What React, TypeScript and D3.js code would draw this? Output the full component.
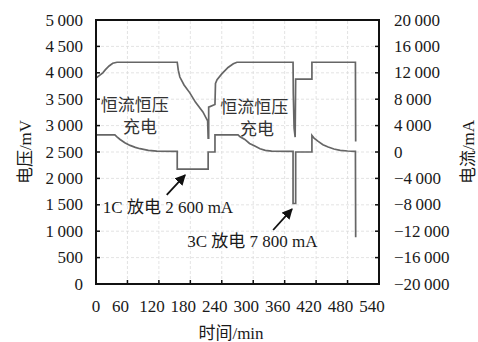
import React from 'react';
import * as d3 from 'd3';

// time ticks (min) and axis ticks
const timeTicks = [0, 60, 120, 180, 240, 300, 360, 420, 480, 540];
const voltTicks = [0, 500, 1000, 1500, 2000, 2500, 3000, 3500, 4000, 4500, 5000];
const currTicks = [-20000, -16000, -12000, -8000, -4000, 0, 4000, 8000, 12000, 16000, 20000];

// voltage curve (mV)
const voltTime = [0, 8, 13, 18, 25, 32, 40, 155, 157, 160, 168, 179, 190, 204, 213, 214, 215, 215, 227, 228, 231, 240, 252, 262, 269, 376, 376.5, 378, 380, 381, 412, 412, 495, 495.5];
const voltValue = [3900, 3960, 4000, 4060, 4130, 4180, 4200, 4200, 4050, 3920, 3770, 3620, 3440, 3260, 3090, 2760, 2760, 3350, 3400, 3800, 3870, 3980, 4100, 4170, 4200, 4200, 3600, 2950, 2780, 3880, 3880, 4200, 4200, 2700];

// current curve (mA)
const currTime = [0, 36, 40, 46, 55, 65, 75, 84, 100, 116, 155, 155, 214, 214, 227, 227, 271, 275, 284, 293, 303, 313, 323, 335, 376, 376, 381, 381, 412, 412, 416, 424, 433, 443, 454, 466, 480, 495, 495.5];
const currValue = [2600, 2600, 2300, 1900, 1400, 1000, 700, 500, 250, 120, 100, -2600, -2600, 0, 0, 2600, 2600, 2300, 1900, 1300, 900, 500, 250, 120, 100, -7800, -7800, 0, 0, 2500, 2100, 1600, 1100, 750, 450, 250, 150, 100, -12900];

const W = 478;
const H = 342;
const margin = { top: 20, right: 99, bottom: 58, left: 96 };
const serif = '"Liberation Serif", "Times New Roman", "Noto Sans CJK SC", serif';
const fmt = (v: number) => {
  const s = d3.format(',')(Math.abs(v)).replace(/,/g, '\u2009');
  return (v < 0 ? '\u2212' : '') + s;
};

export default function App() {
  const x = d3.scaleLinear().domain([0, 540]).range([margin.left, W - margin.right]);
  const yV = d3.scaleLinear().domain([0, 5000]).range([H - margin.bottom, margin.top]);
  const yI = d3.scaleLinear().domain([-20000, 20000]).range([H - margin.bottom, margin.top]);

  const lineV = d3.line<number>().x((_, i) => x(voltTime[i])).y(d => yV(d));
  const lineI = d3.line<number>().x((_, i) => x(currTime[i])).y(d => yI(d));

  const x0 = margin.left, x1 = W - margin.right;
  const y0 = H - margin.bottom, y1 = margin.top;
  const fs = 17;

  const arrow = (t0: number, v0: number, t1: number, v1: number) => (
    <line x1={x(t0)} y1={yV(v0)} x2={x(t1)} y2={yV(v1)} stroke="#111" strokeWidth={1.8} markerEnd="url(#ah)" />
  );

  return (
    <svg width={W} height={H} style={{ position: 'absolute', left: 0, top: 0, background: '#fff' }} fontFamily={serif}>
      <defs>
        <marker id="ah" viewBox="0 0 10 10" refX="9" refY="5" markerWidth="6" markerHeight="6" orient="auto">
          <path d="M0,0 L10,5 L0,10 z" fill="#111" />
        </marker>
      </defs>

      {/* grid */}
      {timeTicks.slice(1, -1).map(t => (
        <line key={'gx' + t} x1={x(t)} x2={x(t)} y1={y0} y2={y1} stroke="#dcdcdc" strokeWidth={0.8} strokeDasharray="3,2" />
      ))}
      {voltTicks.slice(1, -1).map(v => (
        <line key={'gy' + v} x1={x0} x2={x1} y1={yV(v)} y2={yV(v)} stroke="#dcdcdc" strokeWidth={0.8} strokeDasharray="3,2" />
      ))}

      {/* curves */}
      <path d={lineI(currValue) || ''} fill="none" stroke="#666" strokeWidth={1.7} />
      <path d={lineV(voltValue) || ''} fill="none" stroke="#666" strokeWidth={1.7} />

      {/* frame */}
      <rect x={x0} y={y1} width={x1 - x0} height={y0 - y1} fill="none" stroke="#111" strokeWidth={2} />

      {/* ticks + labels */}
      {voltTicks.map(v => (
        <g key={'v' + v}>
          <line x1={x0} x2={x0 + 4} y1={yV(v)} y2={yV(v)} stroke="#111" strokeWidth={1.5} />
          <text x={x0 - 13} y={yV(v)} textAnchor="end" dominantBaseline="central" fontSize={fs} fill="#1a1a1a">{fmt(v)}</text>
        </g>
      ))}
      {currTicks.map(v => (
        <g key={'c' + v}>
          <line x1={x1 - 4} x2={x1} y1={yI(v)} y2={yI(v)} stroke="#111" strokeWidth={1.5} />
          <text x={x1 + 15} y={yI(v)} textAnchor="start" dominantBaseline="central" fontSize={fs} fill="#1a1a1a">{fmt(v)}</text>
        </g>
      ))}
      {timeTicks.map(t => (
        <g key={'t' + t}>
          <line x1={x(t)} x2={x(t)} y1={y0} y2={y0 - 4} stroke="#111" strokeWidth={1.5} />
          <text x={x(t) - (t > 0 ? 7 : 0)} y={y0 + 22} textAnchor="middle" dominantBaseline="central" fontSize={fs} fill="#1a1a1a">{t}</text>
        </g>
      ))}

      {/* axis titles */}
      <text transform={`translate(25,${(y0 + y1) / 2}) rotate(-90)`} textAnchor="middle" dominantBaseline="central" fontSize={fs} fill="#1a1a1a">电压/mV</text>
      <text transform={`translate(468,${(y0 + y1) / 2}) rotate(-90)`} textAnchor="middle" dominantBaseline="central" fontSize={fs} fill="#1a1a1a">电流/mA</text>
      <text x={231} y={333} textAnchor="middle" dominantBaseline="central" fontSize={fs} fill="#1a1a1a">时间/min</text>

      {/* annotations */}
      <text x={x(74)} y={yV(3390)} textAnchor="middle" dominantBaseline="central" fontSize={fs} fill="#333">恒流恒压</text>
      <text x={x(84)} y={yV(2955)} textAnchor="middle" dominantBaseline="central" fontSize={fs} fill="#333">充电</text>
      <text x={x(302)} y={yV(3350)} textAnchor="middle" dominantBaseline="central" fontSize={fs} fill="#333">恒流恒压</text>
      <text x={x(307)} y={yV(2917)} textAnchor="middle" dominantBaseline="central" fontSize={fs} fill="#333">充电</text>
      <text x={x(13)} y={yV(1458)} textAnchor="start" dominantBaseline="central" fontSize={fs} fill="#1a1a1a">1C 放电 2 600 mA</text>
      <text x={x(174)} y={yV(814)} textAnchor="start" dominantBaseline="central" fontSize={fs} fill="#1a1a1a">3C 放电 7 800 mA</text>
      {arrow(135, 1686, 170, 2064)}
      {arrow(338, 1023, 374, 1420)}
    </svg>
  );
}
